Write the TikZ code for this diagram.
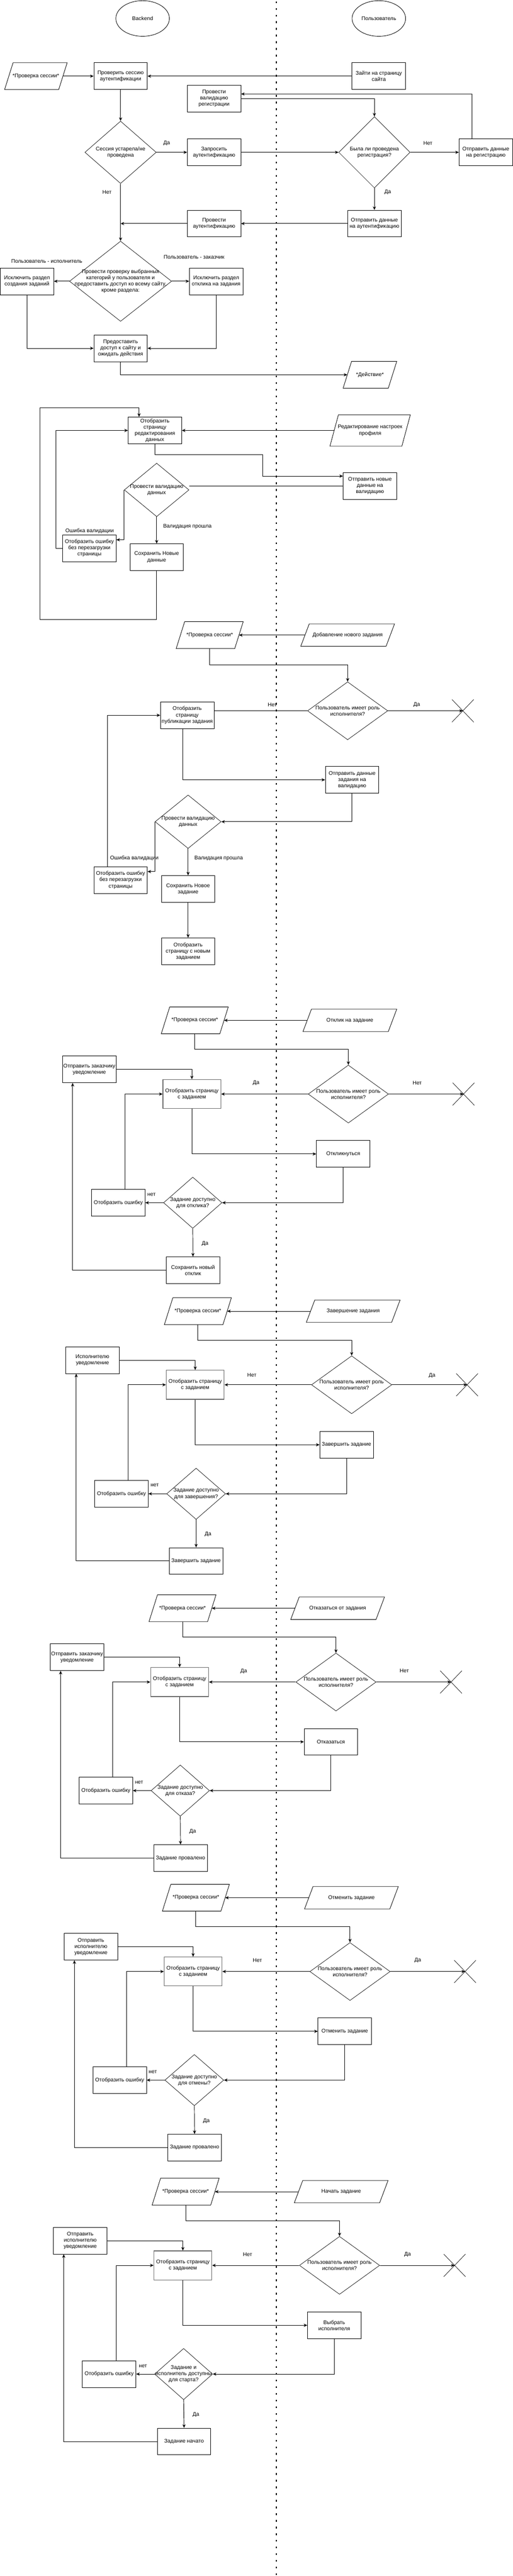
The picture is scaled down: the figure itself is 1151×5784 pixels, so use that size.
\documentclass[tikz,border=0pt]{standalone}
\usepackage{fontspec}
\setmainfont{Liberation Sans}
\usetikzlibrary{arrows.meta,calc,shapes.geometric,shapes.misc}
\tikzset{
 txt/.style={font=\fontsize{12}{14}\selectfont, align=center, inner sep=0pt},
 box/.style={txt, draw, line width=1pt, minimum width=120pt, minimum height=60pt, inner sep=1pt},
 tbox/.style={box, draw=black!60, line width=1.4pt, minimum width=130pt, minimum height=65pt},
 dia/.style={diamond, draw, line width=0.8pt, inner sep=0pt},
 para/.style={txt, minimum width=#1, minimum height=60pt},
 ell/.style={txt, ellipse, draw, line width=1pt, minimum width=120pt, minimum height=80pt},
 xmark/.style={cross out, draw, line width=0.8pt, minimum width=48pt, minimum height=50pt, inner sep=0pt},
 conn/.style={line width=1.1pt},
 arr/.style={conn, -{Stealth[length=8pt,width=7pt,inset=2.5pt]}},
 lbl/.style={txt},
}
\newcommand\myPara[1]{\draw[line width=1pt] ($(#1.north west)+(9.5,0)$) -- ($(#1.north east)+(9.5,0)$) -- ($(#1.south east)+(-9.5,0)$) -- ($(#1.south west)+(-9.5,0)$) -- cycle;}
\begin{document}
\begin{tikzpicture}[x=1pt,y=-1pt]
\fill[white] (0,0) rectangle (1151,5784);
\useasboundingbox (0,0) rectangle (1151,5784);
\coordinate (divTop) at (620,3);
\coordinate (divBot) at (620,5784);
\draw[line width=2.6pt, dash pattern=on 4pt off 11pt] (divTop) -- (divBot);

% ---------- section 1
\node[ell] (eBack) at (320,41.5) {Backend};
\node[ell] (eUser) at (850,41.5) {Пользователь};
\node[para=121pt] (pChk1) at (80.5,171) {*Проверка сессии*};
\myPara{pChk1}
\node[box] (bCheck) at (270.5,171) {Проверить сессию\\аутентификации};
\node[box] (bEnter) at (850,171) {Зайти на страницу\\сайта};
\node[box] (bValReg) at (480.3,221) {Провести\\валидацию\\регистрации};
\node[dia, minimum width=160pt, minimum height=140pt] (dSess) at (270.5,342) {};
\node[txt] (dSessT) at (dSess) {Сессия устарела/не\\проведена};
\node[box] (bReqAuth) at (480.3,342) {Запросить\\аутентификацию};
\node[dia, minimum width=160pt, minimum height=160pt] (dReg) at (840,342) {};
\node[txt] (dRegT) at (dReg) {Была ли проведена\\регистрация?};
\node[box] (bSendReg) at (1090,342) {Отправить данные\\на регистрацию};
\node[box] (bSendAuth) at (840,502) {Отправить данные\\на аутентификацию};
\node[box] (bAuth) at (480.3,502) {Провести\\аутентификацию};
\node[dia, minimum width=229pt, minimum height=180pt] (dCat) at (270.5,631.5) {};
\node[txt] (dCatT) at (dCat) {Провести проверку выбранных\\категорий у пользователя и\\предоставить доступ ко всему сайту,\\кроме раздела:};
\node[box] (bExcl1) at (60.5,632) {Исключить раздел\\создания заданий};
\node[box] (bExcl2) at (485,632) {Исключить раздел\\отклика на задания};
\node[box] (bAccess) at (270.5,782) {Предоставить\\доступ к сайту и\\ожидать действия};
\node[para=101pt] (pAction) at (830,841.5) {*Действие*};
\myPara{pAction}
\node[lbl] (l1) at (374,322) {Да};
\node[lbl] (l2) at (960,322) {Нет};
\node[lbl] (l3) at (240,432) {Нет};
\node[lbl] (l4) at (870,432) {Да};
\node[lbl] (l5) at (105,587) {Пользователь - исполнитель};
\node[lbl] (l6) at (435.5,577) {Пользователь - заказчик};
\draw[arr] (pChk1.east) -- (bCheck.west);
\draw[arr] (bEnter.west) -- (bCheck.east);
\draw[arr] (bCheck.south) -- (dSess.north);
\draw[arr] (dSess.east) -- (dSess.east -| bReqAuth.west);
\draw[arr] (bReqAuth.east) -- (bReqAuth.east -| dReg.west);
\draw[arr] (dReg.east) -- (dReg.east -| bSendReg.west);
\draw[arr] ($(bSendReg.north)+(-31,0)$) |- ($(bValReg.east)+(0,-10)$);
\draw[arr] (bValReg.east) -| (dReg.north);
\draw[arr] (dReg.south) -- (bSendAuth.north);
\draw[arr] (bSendAuth.west) -- (bAuth.east);
\draw[arr] (bAuth.west) -- (bAuth.west -| dSess.south);
\draw[arr] (dSess.south) -- (dCat.north);
\draw[arr] (dCat.west) -- (dCat.west -| bExcl1.east);
\draw[arr] (dCat.east) -- (dCat.east -| bExcl2.west);
\draw[arr] (bExcl1.south) |- (bAccess.west);
\draw[arr] (bExcl2.south) |- (bAccess.east);
\draw[arr] (bAccess.south) |- (pAction.west);

% ---------- section 2
\node[box] (bEditPage) at (347.5,966.5) {Отобразить\\страницу\\редактирования\\данных};
\node[para=161pt, minimum height=70pt] (pEdit) at (830.5,966.5) {Редактирование настроек\\профиля};
\myPara{pEdit}
\node[box] (bSendNew) at (830,1091) {Отправить новые\\данные на\\валидацию};
\node[dia, minimum width=145pt, minimum height=120pt] (dVal1) at (351.5,1100) {};
\node[txt] (dVal1T) at (dVal1) {Провести валидацию\\данных};
\node[box] (bSaveNew) at (351.5,1251) {Сохранить Новые\\данные};
\node[box] (bErr1) at (200.5,1231) {Отобразить ошибку\\без перезагрузки\\страницы};
\node[lbl] (l7) at (420.5,1182) {Валидация прошла};
\node[lbl] (l8) at (201,1192) {Ошибка валидации};
\coordinate (c2a) at (589,1021);
\coordinate (c7a) at (90,916);
\draw[arr] (pEdit.west) -- (pEdit.west -| bEditPage.east);
\draw[arr] (bEditPage.south) |- (c2a) |- ($(bSendNew.west)+(0,-22)$);
\draw[conn] (bSendNew.west) -- (bSendNew.west -| dVal1.east);
\draw[arr] (dVal1.south) -- (bSaveNew.north);
\draw[arr] (dVal1.west) |- ($(bErr1.east)+(0,-19)$);
\draw[arr] (bErr1.west) -- ++(-15,0) |- (bEditPage.west);
\draw[arr] (bSaveNew.south) -- ++(0,110) -| (c7a) -| ($(bEditPage.north)+(-35.5,0)$);

% ---------- section 3
\node[para=131pt] (pChk2) at (470.5,1426) {*Проверка сессии*};
\myPara{pChk2}
\node[para=191pt, minimum height=50pt] (pAdd) at (780,1426) {Добавление нового задания};
\myPara{pAdd}
\node[dia, minimum width=180pt, minimum height=130pt] (dRole1) at (780,1596) {};
\node[txt] (dRole1T) at (dRole1) {Пользователь имеет роль\\исполнителя?};
\node[xmark] (xRole1) at (1038.5,1596) {};
\node[box] (bPub) at (420,1606) {Отобразить\\страницу\\публикации задания};
\node[box] (bSendTask) at (790,1751) {Отправить данные\\задания на\\валидацию};
\node[dia, minimum width=148pt, minimum height=120pt] (dVal2) at (422,1845) {};
\node[txt] (dVal2T) at (dVal2) {Провести валидацию\\данных};
\node[box] (bErr2) at (270.5,1976) {Отобразить ошибку\\без перезагрузки\\страницы};
\node[box] (bSaveTask) at (422,1996) {Сохранить Новое\\задание};
\node[box] (bShowNew) at (422,2136) {Отобразить\\страницу с новым\\заданием};
\node[lbl] (l9) at (611,1582) {Нет};
\node[lbl] (l10) at (935,1582) {Да};
\node[lbl] (l11) at (490.6,1927) {Валидация прошла};
\node[lbl] (l12) at (301.3,1927) {Ошибка валидации};
\draw[arr] (pAdd.west) -- (pChk2.east);
\draw[arr] (pChk2.south) -- ++(0,37) -| (dRole1.north);
\draw[conn] (dRole1.west) -- (dRole1.west -| bPub.east);
\draw[arr] (dRole1.east) -- (xRole1.center);
\draw[arr] ($(bPub.south)+(-10,0)$) |- (bSendTask.west);
\draw[arr] (bSendTask.south) |- (dVal2.east);
\draw[arr] (dVal2.south) -- (bSaveTask.north);
\draw[arr] (dVal2.west) |- ($(bErr2.east)+(0,-19)$);
\draw[arr] ($(bErr2.north)+(-29.5,0)$) |- (bPub.west);
\draw[arr] (bSaveTask.south) -- (bShowNew.north);

% ---------- section 4
\node[para=131pt] (pChk3) at (437,2291) {*Проверка сессии*};
\myPara{pChk3}
\node[para=191pt, minimum height=50pt] (pResp) at (785,2291) {Отклик на задание};
\myPara{pResp}
\node[dia, minimum width=180pt, minimum height=130pt] (dRole2) at (781.6,2456.5) {};
\node[txt] (dRole2T) at (dRole2) {Пользователь имеет роль\\исполнителя?};
\node[xmark] (xRole2) at (1040,2456.5) {};
\node[box] (bNotif1) at (200.5,2401) {Отправить заказчику\\уведомление};
\node[tbox] (bTask1) at (430.5,2456.5) {Отобразить страницу\\с заданием};
\node[box] (bRespond) at (770,2591) {Откликнуться};
\node[dia, minimum width=131pt, minimum height=115pt] (dAv1) at (432.5,2700.5) {};
\node[txt] (dAv1T) at (dAv1) {Задание доступно\\для отклика?};
\node[box] (bErr3) at (265.5,2700.5) {Отобразить ошибку};
\node[box] (bSaveResp) at (433,2852) {Сохранить новый\\отклик};
\node[lbl] (l13) at (574.7,2432) {Да};
\node[lbl] (l14) at (936,2432) {Нет};
\node[lbl] (l15) at (340,2682) {нет};
\node[lbl] (l16) at (460,2792) {Да};
\draw[arr] (pResp.west) -- (pChk3.east);
\draw[arr] (pChk3.south) -- ++(0,35) -| (dRole2.north);
\draw[arr] (dRole2.west) -- (dRole2.west -| bTask1.east);
\draw[arr] (dRole2.east) -- (xRole2.center);
\draw[arr] (bNotif1.east) -| (bTask1.north);
\draw[arr] (bTask1.south) |- (bRespond.west);
\draw[arr] (bRespond.south) |- (dAv1.east);
\draw[arr] (dAv1.west) -- (dAv1.west -| bErr3.east);
\draw[arr] ($(bErr3.north)+(14.5,0)$) |- (bTask1.west);
\draw[arr] (dAv1.south) -- (bSaveResp.north);
\draw[arr] (bSaveResp.west) -| ($(bNotif1.south)+(-37.5,0)$);

% ---------- section 5
\node[para=131pt] (pChk4) at (444,2944) {*Проверка сессии*};
\myPara{pChk4}
\node[para=191pt, minimum height=50pt] (pFin) at (792.5,2944) {Завершение задания};
\myPara{pFin}
\node[dia, minimum width=180pt, minimum height=130pt] (dRole3) at (789,3109.3) {};
\node[txt] (dRole3T) at (dRole3) {Пользователь имеет роль\\исполнителя?};
\node[xmark] (xRole3) at (1048,3109.3) {};
\node[box] (bNotif2) at (207.5,3054) {Исполнителю\\уведомление};
\node[tbox] (bTask2) at (438,3109.3) {Отобразить страницу\\с заданием};
\node[box] (bFinU) at (777.5,3244) {Завершить задание};
\node[dia, minimum width=132pt, minimum height=115pt] (dAv2) at (440,3354) {};
\node[txt] (dAv2T) at (dAv2) {Задание доступно\\для завершения?};
\node[box] (bErr4) at (272.5,3354) {Отобразить ошибку};
\node[box] (bFinB) at (440,3505) {Завершить задание};
\node[lbl] (l17) at (565,3088) {Нет};
\node[lbl] (l18) at (969.5,3088) {Да};
\node[lbl] (l19) at (347,3335) {нет};
\node[lbl] (l20) at (466.8,3445.3) {Да};
\draw[arr] (pFin.west) -- (pChk4.east);
\draw[arr] (pChk4.south) -- ++(0,35) -| (dRole3.north);
\draw[arr] (dRole3.west) -- (dRole3.west -| bTask2.east);
\draw[arr] (dRole3.east) -- (xRole3.center);
\draw[arr] (bNotif2.east) -| (bTask2.north);
\draw[arr] (bTask2.south) |- (bFinU.west);
\draw[arr] (bFinU.south) |- (dAv2.east);
\draw[arr] (dAv2.west) -- (dAv2.west -| bErr4.east);
\draw[arr] ($(bErr4.north)+(15.5,0)$) |- (bTask2.west);
\draw[arr] (dAv2.south) -- (bFinB.north);
\draw[arr] (bFinB.west) -| ($(bNotif2.south)+(-36.5,0)$);

% ---------- section 6
\node[para=131pt] (pChk5) at (409.5,3611) {*Проверка сессии*};
\myPara{pChk5}
\node[para=191pt, minimum height=50pt] (pRefuse) at (757.5,3611) {Отказаться от задания};
\myPara{pRefuse}
\node[dia, minimum width=180pt, minimum height=130pt] (dRole4) at (753.8,3776.7) {};
\node[txt] (dRole4T) at (dRole4) {Пользователь имеет роль\\исполнителя?};
\node[xmark] (xRole4) at (1012,3776.7) {};
\node[box] (bNotif3) at (173,3721) {Отправить заказчику\\уведомление};
\node[tbox] (bTask3) at (403,3776.7) {Отобразить страницу\\с заданием};
\node[box] (bRefU) at (742.5,3911) {Отказаться};
\node[dia, minimum width=131pt, minimum height=115pt] (dAv3) at (404.5,4020.5) {};
\node[txt] (dAv3T) at (dAv3) {Задание доступно\\для отказа?};
\node[box] (bErr5) at (237.5,4020.5) {Отобразить ошибку};
\node[box] (bFail1) at (405,4172) {Задание провалено};
\node[lbl] (l21) at (546.8,3752) {Да};
\node[lbl] (l22) at (907.2,3752) {Нет};
\node[lbl] (l23) at (312,4002.3) {нет};
\node[lbl] (l24) at (432.3,4112.3) {Да};
\draw[arr] (pRefuse.west) -- (pChk5.east);
\draw[arr] (pChk5.south) -- ++(0,35) -| (dRole4.north);
\draw[arr] (dRole4.west) -- (dRole4.west -| bTask3.east);
\draw[arr] (dRole4.east) -- (xRole4.center);
\draw[arr] (bNotif3.east) -| (bTask3.north);
\draw[arr] (bTask3.south) |- (bRefU.west);
\draw[arr] (bRefU.south) |- (dAv3.east);
\draw[arr] (dAv3.west) -- (dAv3.west -| bErr5.east);
\draw[arr] ($(bErr5.north)+(15.5,0)$) |- (bTask3.west);
\draw[arr] (dAv3.south) -- (bFail1.north);
\draw[arr] (bFail1.west) -| ($(bNotif3.south)+(-37,0)$);

% ---------- section 7
\node[para=131pt] (pChk6) at (439.5,4261) {*Проверка сессии*};
\myPara{pChk6}
\node[para=191pt, minimum height=50pt] (pCancel) at (788.5,4261) {Отменить задание};
\myPara{pCancel}
\node[dia, minimum width=180pt, minimum height=130pt] (dRole5) at (785.3,4426.7) {};
\node[txt] (dRole5T) at (dRole5) {Пользователь имеет роль\\исполнителя?};
\node[xmark] (xRole5) at (1043.5,4426.7) {};
\node[box] (bNotif4) at (204,4371) {Отправить\\исполнителю\\уведомление};
\node[tbox] (bTask4) at (433.3,4426.7) {Отобразить страницу\\с заданием};
\node[box] (bCancU) at (773.5,4561) {Отменить задание};
\node[dia, minimum width=132pt, minimum height=115pt] (dAv4) at (436,4670.5) {};
\node[txt] (dAv4T) at (dAv4) {Задание доступно\\для отмены?};
\node[box] (bErr6) at (268.5,4670.5) {Отобразить ошибку};
\node[box] (bFail2) at (436.5,4822) {Задание провалено};
\node[lbl] (l25) at (577.6,4402) {Нет};
\node[lbl] (l26) at (937.2,4402) {Да};
\node[lbl] (l27) at (342.8,4652.3) {нет};
\node[lbl] (l28) at (463.1,4762.3) {Да};
\draw[arr] (pCancel.west) -- (pChk6.east);
\draw[arr] (pChk6.south) -- ++(0,35) -| (dRole5.north);
\draw[arr] (dRole5.west) -- (dRole5.west -| bTask4.east);
\draw[arr] (dRole5.east) -- (xRole5.center);
\draw[arr] (bNotif4.east) -| (bTask4.north);
\draw[arr] (bTask4.south) |- (bCancU.west);
\draw[arr] (bCancU.south) |- (dAv4.east);
\draw[arr] (dAv4.west) -- (dAv4.west -| bErr6.east);
\draw[arr] ($(bErr6.north)+(15.5,0)$) |- (bTask4.west);
\draw[arr] (dAv4.south) -- (bFail2.north);
\draw[arr] (bFail2.west) -| ($(bNotif4.south)+(-37,0)$);

% ---------- section 8
\node[para=131pt] (pChk7) at (416.5,4921) {*Проверка сессии*};
\myPara{pChk7}
\node[para=191pt, minimum height=50pt] (pStart) at (765.5,4921) {Начать задание};
\myPara{pStart}
\node[dia, minimum width=180pt, minimum height=130pt] (dRole6) at (761.8,5086.5) {};
\node[txt] (dRole6T) at (dRole6) {Пользователь имеет роль\\исполнителя?};
\node[xmark] (xRole6) at (1020,5086.5) {};
\node[box] (bNotif5) at (180,5031) {Отправить\\исполнителю\\уведомление};
\node[tbox] (bTask5) at (410.3,5086.5) {Отобразить страницу\\с заданием};
\node[box] (bChoose) at (750,5221) {Выбрать\\исполнителя};
\node[dia, minimum width=130pt, minimum height=115pt] (dAv5) at (412,5330.5) {};
\node[txt] (dAv5T) at (dAv5) {Задание и\\исполнитель доступны\\для старта?};
\node[box] (bErr7) at (245,5330.5) {Отобразить ошибку};
\node[box] (bStarted) at (413,5482) {Задание начато};
\node[lbl] (l29) at (555.6,5062) {Нет};
\node[lbl] (l30) at (914.5,5062) {Да};
\node[lbl] (l31) at (320.7,5312.3) {нет};
\node[lbl] (l32) at (439.6,5422.3) {Да};
\draw[arr] (pStart.west) -- (pChk7.east);
\draw[arr] (pChk7.south) -- ++(0,35) -| (dRole6.north);
\draw[arr] (dRole6.west) -- (dRole6.west -| bTask5.east);
\draw[arr] (dRole6.east) -- (xRole6.center);
\draw[arr] (bNotif5.east) -| (bTask5.north);
\draw[arr] (bTask5.south) |- (bChoose.west);
\draw[arr] (bChoose.south) |- (dAv5.east);
\draw[arr] (dAv5.west) -- (dAv5.west -| bErr7.east);
\draw[arr] ($(bErr7.north)+(16,0)$) |- (bTask5.west);
\draw[arr] (dAv5.south) -- (bStarted.north);
\draw[arr] (bStarted.west) -| ($(bNotif5.south)+(-37,0)$);
\end{tikzpicture}
\end{document}
